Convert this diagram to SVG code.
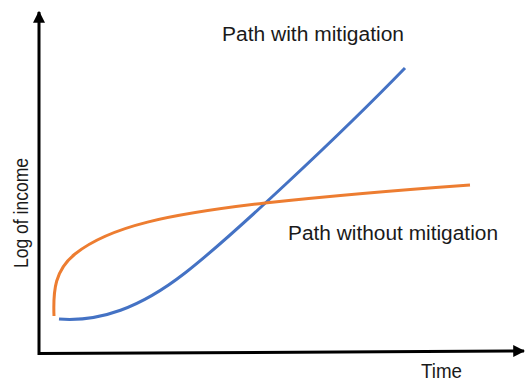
<svg xmlns="http://www.w3.org/2000/svg" width="526" height="383" viewBox="0 0 526 383">
  <style>
    .axis { stroke: #000; stroke-width: 3; fill: none; }
    .curve { fill: none; stroke-width: 3; stroke-linecap: butt; }
    .label { font-family: "Liberation Sans", Arial, sans-serif; font-size: 20px; fill: #1a1a1a; }
  </style>
  <defs>
    <marker id="arrow" viewBox="0 0 10 10" refX="9" refY="5" markerWidth="4" markerHeight="4" orient="auto" markerUnits="strokeWidth">
      <path d="M0,0 L10,5 L0,10 Z" fill="#000"/>
    </marker>
  </defs>
  <rect width="526" height="383" fill="#fff"/>

  <g id="axes">
    <line class="axis" x1="39" y1="355" x2="39" y2="12" marker-end="url(#arrow)"/>
    <line class="axis" x1="38" y1="353.5" x2="524" y2="351" marker-end="url(#arrow)"/>
  </g>

  <g id="connectors">
    <path id="with-mitigation" class="curve" stroke="#4472C4"
          d="M59,319 C100,322 140,308 185,273 C230,238 340,135 405,68"/>
    <path id="without-mitigation" class="curve" stroke="#ED7D31"
          d="M54,316 C53,290 55,270 75,254 C110,226 170,214 265,203 C330,196 400,190 470,185"/>
  </g>

  <g id="labels">
    <text class="label" x="222" y="41" textLength="182" lengthAdjust="spacingAndGlyphs">Path with mitigation</text>
    <text class="label" x="288" y="240" textLength="210" lengthAdjust="spacingAndGlyphs">Path without mitigation</text>
    <text class="label" x="421" y="378" textLength="41" lengthAdjust="spacingAndGlyphs">Time</text>
    <text class="label" transform="translate(28,268) rotate(-90)" textLength="110" lengthAdjust="spacingAndGlyphs">Log of income</text>
  </g>
</svg>
